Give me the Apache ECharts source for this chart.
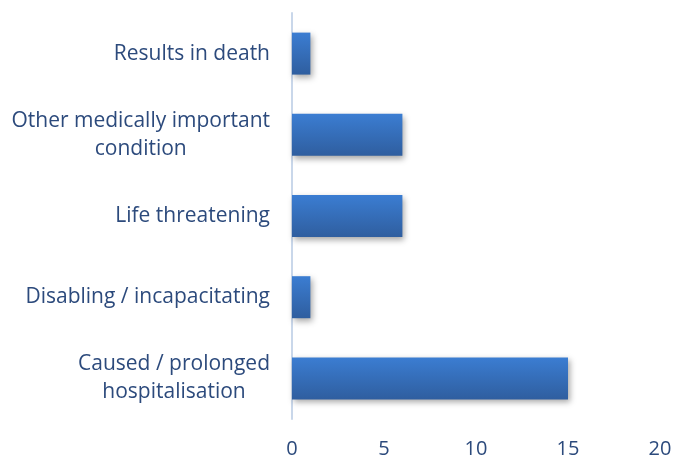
<!DOCTYPE html>
<html>
<head>
    <meta charset="utf-8">
    <title></title>
    <style>
        body{ margin: 0; }
        #chart{ width: 675px; height: 459px; }
    </style>
    <script src="https://cdn.jsdelivr.net/npm/echarts@6/dist/echarts.min.js"></script>
</head>
<body>
<div id="chart"></div>
<script>
    // categories bottom -> top
    var categories = ['Caused / prolonged\nhospitalisation', 'Disabling / incapacitating', 'Life threatening',
        'Other medically important\ncondition', 'Results in death'];
    var counts = [15, 1, 6, 6, 1];
    var xTicks = [0, 5, 10, 15, 20];

    var textColor = '#2c4a7c';

    var option = {
        animation: false,
        grid: { left: 292, right: 15, top: 13, bottom: 38 },
        xAxis: {
            type: 'value',
            min: xTicks[0],
            max: xTicks[xTicks.length - 1],
            interval: 5,
            axisLine: { show: false },
            axisTick: { show: false },
            splitLine: { show: false },
            axisLabel: { color: textColor, fontFamily: 'Open Sans', fontSize: 20, margin: 20 }
        },
        yAxis: {
            type: 'category',
            data: categories,
            axisLine: { show: true, lineStyle: { color: '#c9d7ea', width: 2 } },
            axisTick: { show: false },
            axisLabel: {
                color: textColor, fontFamily: 'Open Sans', fontSize: 21, margin: 22,
                formatter: function (v) {
                    return v.split('\n').map(function (s) { return '{c|' + s + '}'; }).join('\n');
                },
                rich: { c: { align: 'center', color: textColor, fontFamily: 'Open Sans', fontSize: 21, lineHeight: 28 } }
            }
        },
        series: [{
            type: 'bar',
            data: counts,
            barWidth: 42,
            itemStyle: {
                color: new echarts.graphic.LinearGradient(0, 0, 0, 1, [
                    { offset: 0, color: '#3b7dd2' },
                    { offset: 1, color: '#2f5e9f' }
                ]),
                shadowColor: 'rgba(0,0,0,0.35)',
                shadowBlur: 6,
                shadowOffsetX: 2,
                shadowOffsetY: 3
            }
        }]
    };
    var myChart = echarts.init(document.getElementById('chart'));
    myChart.setOption(option);
</script>
</body>
</html>
